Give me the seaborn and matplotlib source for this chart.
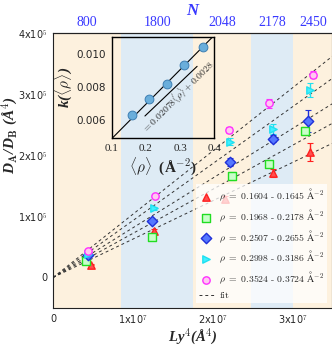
import numpy as np
import pandas as pd
import seaborn as sns
import matplotlib.pyplot as plt

sns.set_style("white")
plt.rcParams["mathtext.fontset"] = "cm"
plt.rcParams["font.family"] = ["DejaVu Sans"]

# series (x in Ly^4, y in D_A/D_B)
labels = [r"$\rho\ =\ 0.1604\ \text{-}\ 0.1645\ \mathrm{\AA}^{-2}$",
          r"$\rho\ =\ 0.1968\ \text{-}\ 0.2178\ \mathrm{\AA}^{-2}$",
          r"$\rho\ =\ 0.2507\ \text{-}\ 0.2655\ \mathrm{\AA}^{-2}$",
          r"$\rho\ =\ 0.2998\ \text{-}\ 0.3186\ \mathrm{\AA}^{-2}$",
          r"$\rho\ =\ 0.3524\ \text{-}\ 0.3724\ \mathrm{\AA}^{-2}$"]
x_red = [0.47e7, 1.26e7, 2.14e7, 2.75e7, 3.21e7]
y_red = [0.21e5, 0.76e5, 1.28e5, 1.71e5, 2.05e5]
e_red = [0.01e5, 0.03e5, 0.05e5, 0.06e5, 0.15e5]
x_green = [0.41e7, 1.23e7, 2.23e7, 2.70e7, 3.14e7]
y_green = [0.27e5, 0.67e5, 1.66e5, 1.86e5, 2.40e5]
e_green = [0.01e5, 0.03e5, 0.06e5, 0.04e5, 0.07e5]
x_blue = [0.43e7, 1.24e7, 2.21e7, 2.75e7, 3.18e7]
y_blue = [0.36e5, 0.93e5, 1.89e5, 2.27e5, 2.56e5]
e_blue = [0.01e5, 0.03e5, 0.06e5, 0.06e5, 0.18e5]
x_cyan = [0.44e7, 1.26e7, 2.21e7, 2.75e7, 3.20e7]
y_cyan = [0.38e5, 1.13e5, 2.22e5, 2.43e5, 3.07e5]
e_cyan = [0.01e5, 0.03e5, 0.06e5, 0.08e5, 0.12e5]
x_mag = [0.44e7, 1.27e7, 2.20e7, 2.70e7, 3.24e7]
y_mag = [0.43e5, 1.34e5, 2.41e5, 2.85e5, 3.32e5]
e_mag = [0.01e5, 0.02e5, 0.05e5, 0.07e5, 0.06e5]

# fitted slopes k(<rho>) and inset points
rho_mean = [0.160, 0.209, 0.261, 0.313, 0.367]
k_vals = [0.0063, 0.00724, 0.00816, 0.00935, 0.01039]
fit_a, fit_b = 0.02078, 0.0028

# N bands along Ly^4
band_edges = [0, 0.85e7, 1.75e7, 2.475e7, 2.99e7, 3.5e7]
band_N = ["800", "1800", "2048", "2178", "2450"]

xs = [x_red, x_green, x_blue, x_cyan, x_mag]
ys = [y_red, y_green, y_blue, y_cyan, y_mag]
es = [e_red, e_green, e_blue, e_cyan, e_mag]
edge_c = ["#ff2020", "#22dd22", "#1f2fd8", "#20e0f0", "#ff30ff"]
face_c = ["#ff5050", "#c8ffc8", "#5577ff", "#40f0ff", "#ffc8f0"]
markers = ["^", "s", "D", ">", "o"]

rows = []
for i in range(5):
    for xv, yv in zip(xs[i], ys[i]):
        rows.append({"Ly4": xv, "D": yv, "grp": labels[i]})
df = pd.DataFrame(rows)

serif_bi = dict(fontfamily=["Liberation Serif", "DejaVu Serif"],
                fontweight="bold", fontstyle="italic")

fig = plt.figure(figsize=(3.32, 3.48), dpi=100)
ax = fig.add_axes([0.16, 0.115, 0.84, 0.79])

for j in range(5):
    ax.axvspan(band_edges[j], band_edges[j + 1],
               color="#fdf1de" if j % 2 == 0 else "#deebf5", lw=0, zorder=0)

xfit = np.linspace(0, 3.5e7, 50)
for j, k in enumerate(k_vals):
    ax.plot(xfit, k * xfit, ls=(0, (3, 3)), color="#333333", lw=0.7, zorder=1,
            label=r"$\mathrm{fit}$" if j == 0 else None)

for i in range(5):
    ax.errorbar(xs[i], ys[i], yerr=es[i], fmt="none", ecolor=edge_c[i],
                elinewidth=1, capsize=2, capthick=0.8, zorder=2)
    sub = df[df["grp"] == labels[i]]
    sns.scatterplot(data=sub, x="Ly4", y="D", ax=ax, marker=markers[i], s=28,
                    color=face_c[i], edgecolor=edge_c[i], linewidth=1,
                    label=labels[i], zorder=3)

ax.set_xlim(0, 3.48e7)
ax.set_ylim(-0.5e5, 4e5)
ax.set_xticks([0, 1e7, 2e7, 3e7])
ax.set_xticklabels(["0", r"1x10$^7$", r"2x10$^7$", r"3x10$^7$"], fontsize=7)
ax.set_yticks([0, 1e5, 2e5, 3e5, 4e5])
ax.set_yticklabels(["0", r"1x10$^5$", r"2x10$^5$", r"3x10$^5$", r"4x10$^5$"], fontsize=7)
ax.tick_params(length=2, width=0.6, pad=2)
ax.set_xlabel(r"Ly$^{\mathbf{4}}$(Å$^{\mathbf{4}}$)", fontsize=10.5, labelpad=0, **serif_bi)
ax.set_ylabel(r"D$_{\mathbf{A}}$/D$_{\mathbf{B}}$ (Å$^{\mathbf{4}}$)", fontsize=11,
              **serif_bi)
ax.yaxis.set_label_coords(-0.12, 0.63)
for s in ax.spines.values():
    s.set_linewidth(0.8)
    s.set_color("#222222")

top = ax.secondary_xaxis("top")
centers = [(band_edges[j] + band_edges[j + 1]) / 2 for j in range(5)]
top.set_xticks(centers)
top.set_xticklabels(band_N, fontsize=10, color="#3838ff",
                    fontfamily="Liberation Serif")
top.tick_params(length=0, pad=3)
top.set_xlabel("N", fontsize=12, color="#3838ff", labelpad=1, **serif_bi)

h, l = ax.get_legend_handles_labels()
order = [l.index(t) for t in labels] + [l.index(r"$\mathrm{fit}$")]
ax.legend([h[o] for o in order], [l[o] for o in order], loc="lower right",
          fontsize=7, frameon=True, framealpha=0.75, edgecolor="none",
          facecolor="white", handlelength=1.6, borderaxespad=0.5,
          labelspacing=0.45, handletextpad=0.5, fancybox=False,
          borderpad=0.3)

# inset
ins = fig.add_axes([0.337, 0.603, 0.308, 0.29])
ins.patch.set_alpha(0)
rr = np.linspace(0.1, 0.4, 20)
ins.plot(rr, fit_a * rr + fit_b, color="black", lw=0.8)
sns.scatterplot(x=rho_mean, y=k_vals, ax=ins, s=40, color="#6aaedb",
                edgecolor="#3d7fb3", linewidth=0.7, zorder=3)
ins.plot([0.197, 0.35], [0.00624, 0.00924], color="black", lw=0.8)
ins.text(0.292, 0.0074, r"$=0.02078\langle\rho\rangle+0.0028$", rotation=45,
         fontsize=7, ha="center", va="center")
ins.set_xlim(0.1, 0.4)
ins.set_ylim(0.0049, 0.011)
ins.set_xticks([0.1, 0.2, 0.3, 0.4])
ins.set_xticklabels(["0.1", "0.2", "0.3", "0.4"], fontsize=8,
                    fontfamily="Liberation Serif")
ins.set_yticks([0.006, 0.008, 0.010])
ins.set_yticklabels(["0.006", "0.008", "0.010"], fontsize=7.5)
ins.tick_params(length=2, width=0.6, pad=2)
ins.set_xlabel(r"$\langle\rho\rangle$  (Å$^{\mathbf{-2}}$)", fontsize=11, labelpad=2,
               fontfamily=["Liberation Serif", "DejaVu Serif"], fontweight="bold")
ins.set_ylabel(r"k($\langle\rho\rangle$)", fontsize=11, labelpad=2, **serif_bi)
for s in ins.spines.values():
    s.set_linewidth(1)
    s.set_color("black")

fig.savefig("out.png", dpi=100)
